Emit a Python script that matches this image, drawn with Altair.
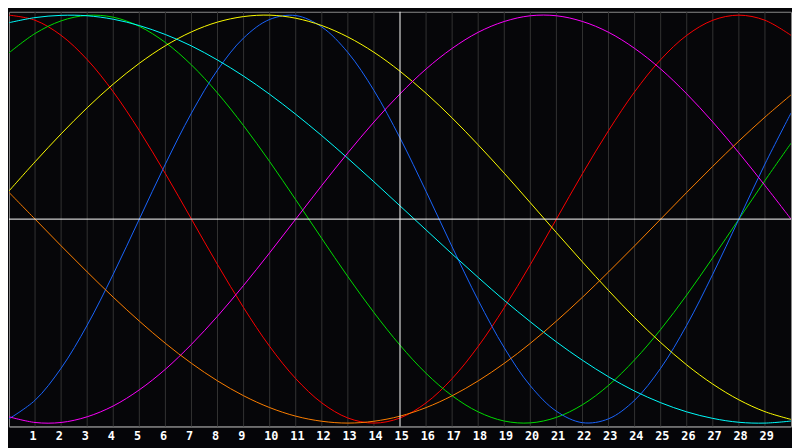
import altair as alt
import pandas as pd

days = list(range(0, 31))
tick_days = list(range(1, 30))

red = [1.000,0.975,0.901,0.782,0.624,0.434,0.223,0.000,-0.223,-0.434,-0.624,-0.782,-0.901,-0.975,-1.000,-0.975,-0.901,-0.782,-0.624,-0.434,-0.223,0.000,0.223,0.434,0.624,0.782,0.901,0.975,1.000,0.975,0.901]
green = [0.815,0.910,0.972,0.999,0.990,0.945,0.866,0.756,0.618,0.458,0.282,0.095,-0.095,-0.282,-0.458,-0.618,-0.756,-0.866,-0.945,-0.990,-0.999,-0.972,-0.910,-0.815,-0.690,-0.541,-0.372,-0.189,0.000,0.189,0.372]
blue = [-0.979,-0.888,-0.731,-0.520,-0.270,0.000,0.270,0.520,0.731,0.888,0.979,0.998,0.942,0.817,0.631,0.398,0.136,-0.136,-0.398,-0.631,-0.817,-0.942,-0.998,-0.979,-0.888,-0.731,-0.520,-0.270,0.000,0.270,0.520]
yellow = [0.138,0.281,0.418,0.546,0.662,0.764,0.850,0.918,0.966,0.993,1.000,0.985,0.949,0.893,0.818,0.725,0.617,0.496,0.364,0.225,0.080,-0.066,-0.210,-0.350,-0.483,-0.605,-0.715,-0.809,-0.886,-0.944,-0.982]
cyan = [0.963,0.988,0.999,0.997,0.980,0.949,0.905,0.849,0.780,0.701,0.612,0.514,0.409,0.298,0.183,0.065,-0.053,-0.171,-0.286,-0.398,-0.503,-0.602,-0.692,-0.773,-0.843,-0.900,-0.945,-0.977,-0.996,-1.000,-0.990]
magenta = [-0.969,-0.997,-0.997,-0.969,-0.916,-0.837,-0.736,-0.614,-0.476,-0.325,-0.165,0.000,0.165,0.325,0.476,0.614,0.736,0.837,0.916,0.969,0.997,0.997,0.969,0.916,0.837,0.736,0.614,0.476,0.325,0.165,0.000]
orange = [0.131,0.000,-0.131,-0.259,-0.383,-0.500,-0.609,-0.707,-0.793,-0.866,-0.924,-0.966,-0.991,-1.000,-0.991,-0.966,-0.924,-0.866,-0.793,-0.707,-0.609,-0.500,-0.383,-0.259,-0.131,0.000,0.131,0.259,0.383,0.500,0.609]

series_names = ["red", "green", "blue", "yellow", "cyan", "magenta", "orange"]
series_values = [red, green, blue, yellow, cyan, magenta, orange]
series_colors = ["#ff0000", "#00dd00", "#1a66ff", "#ffff00", "#00ffff", "#ff00ff", "#ff8000"]

rows = []
for name, vals in zip(series_names, series_values):
    for d, v in zip(days, vals):
        rows.append({"day": d, "value": v, "series": name})
df = pd.DataFrame(rows)

grid_df = pd.DataFrame({"day": [d for d in tick_days if d != 15]})

x_scale = alt.Scale(domain=[0, 30], nice=False, zero=False)
y_scale = alt.Scale(domain=[-1.0166, 1.0166], nice=False, zero=False)

x_axis = alt.Axis(
    values=tick_days,
    labelColor="white",
    labelFont="DejaVu Sans Mono",
    labelFontWeight="bold",
    labelFontSize=12,
    labelAlign="left",
    labelOffset=-6,
    labelPadding=4,
    ticks=False,
    grid=False,
    domain=True,
    domainColor="#8a8a8a",
    title=None,
    minExtent=20,
    maxExtent=20,
    labelOverlap=False,
)

grid = alt.Chart(grid_df).mark_rule(color="#333333", strokeWidth=1).encode(
    x=alt.X("day:Q", scale=x_scale, axis=x_axis)
)

lines = alt.Chart(df).mark_line(strokeWidth=1, interpolate="catmull-rom", clip=True).encode(
    x=alt.X("day:Q", scale=x_scale, axis=x_axis),
    y=alt.Y("value:Q", scale=y_scale, axis=None),
    color=alt.Color("series:N", scale=alt.Scale(domain=series_names, range=series_colors), legend=None),
    detail="series:N",
)

hline = alt.Chart(pd.DataFrame({"v": [0.0]})).mark_rule(color="white", strokeWidth=1).encode(
    y=alt.Y("v:Q", scale=y_scale, axis=None)
)
vline = alt.Chart(pd.DataFrame({"d": [15]})).mark_rule(color="white", strokeWidth=1).encode(
    x=alt.X("d:Q", scale=x_scale, axis=x_axis)
)

chart = alt.layer(grid, lines, hline, vline).properties(
    width=792, height=420, padding=0, background="#050508"
).configure_view(
    stroke="#8a8a8a", strokeWidth=1, fill="#060609"
)

chart.save("out.html", embed_options={"renderer": "svg", "actions": False})
